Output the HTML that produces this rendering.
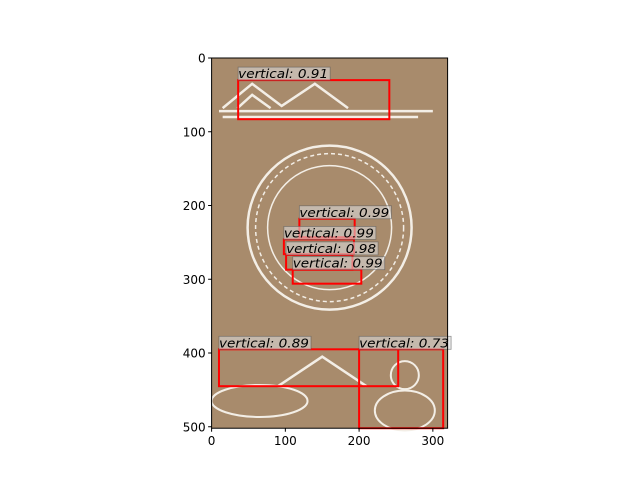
<!DOCTYPE html>
<html><head><meta charset="utf-8"><style>
body{margin:0;background:#fff;}
svg{display:block;font-family:"DejaVu Sans","Liberation Sans",sans-serif;}
</style></head><body>
<svg id="chart" width="640" height="480" viewBox="0 0 640 480">
  <g id="img"></g>
  <g id="deco"></g>
  <g id="boxes"></g>
  <g id="axes"></g>
</svg>
<script>
const labels = ["vertical","vertical","vertical","vertical","vertical","vertical","vertical"];
const scores = [0.91, 0.99, 0.99, 0.98, 0.99, 0.89, 0.73];
const x0s = [36, 119, 98, 101, 110, 10, 200];
const y0s = [30, 218, 246, 267, 287, 395, 395];
const x1s = [241, 194, 193, 191, 203, 253, 314];
const y1s = [83, 243, 266, 287, 306, 445, 502];
const xTicks = [0, 100, 200, 300];
const yTicks = [0, 100, 200, 300, 400, 500];
const imgW = 320, imgH = 502;

const L = 211.6, T = 58, S = 0.7375;
const sx = v => L + v * S;
const sy = v => T + v * S;
const NS = "http://www.w3.org/2000/svg";
function mk(tag, attrs, parent) {
  const e = document.createElementNS(NS, tag);
  for (const k in attrs) e.setAttribute(k, attrs[k]);
  parent.appendChild(e);
  return e;
}
const img = document.getElementById("img");
const bg = mk("rect", {x: sx(0), y: sy(0), width: imgW * S, height: imgH * S, fill: "#a88b6c"}, img);



const deco = document.getElementById("deco");
const W = "#f3eee6";
mk("line", {x1: sx(10), y1: sy(72), x2: sx(300), y2: sy(72), stroke: W, "stroke-width": 2.5}, deco);
mk("line", {x1: sx(15), y1: sy(80), x2: sx(280), y2: sy(80), stroke: W, "stroke-width": 2.5}, deco);
mk("polyline", {points: `${sx(15)},${sy(68)} ${sx(55)},${sy(35)} ${sx(95)},${sy(65)} ${sx(140)},${sy(35)} ${sx(185)},${sy(68)}`, fill: "none", stroke: W, "stroke-width": 2.5}, deco);
mk("polyline", {points: `${sx(35)},${sy(68)} ${sx(55)},${sy(50)} ${sx(80)},${sy(68)}`, fill: "none", stroke: W, "stroke-width": 2.5}, deco);
mk("circle", {cx: sx(160), cy: sy(230), r: 82, fill: "none", stroke: W, "stroke-width": 2.5}, deco);
mk("circle", {cx: sx(160), cy: sy(230), r: 74, fill: "none", stroke: W, "stroke-width": 1.5, "stroke-dasharray": "4 3"}, deco);
mk("circle", {cx: sx(160), cy: sy(230), r: 62, fill: "none", stroke: W, "stroke-width": 1.5}, deco);
mk("ellipse", {cx: sx(65), cy: sy(465), rx: 48, ry: 16, fill: "none", stroke: W, "stroke-width": 2}, deco);
mk("polyline", {points: `${sx(90)},${sy(445)} ${sx(150)},${sy(405)} ${sx(210)},${sy(445)}`, fill: "none", stroke: W, "stroke-width": 2.5}, deco);
mk("circle", {cx: sx(262), cy: sy(430), r: 14, fill: "none", stroke: W, "stroke-width": 2}, deco);
mk("ellipse", {cx: sx(262), cy: sy(478), rx: 30, ry: 20, fill: "none", stroke: W, "stroke-width": 2}, deco);

const boxes = document.getElementById("boxes");
for (let i = 0; i < scores.length; i++) {
  const g = mk("g", {}, boxes);
  
  
  mk("rect", {x: sx(x0s[i]), y: sy(y0s[i]), width: (x1s[i] - x0s[i]) * S, height: (y1s[i] - y0s[i]) * S, fill: "none", stroke: "#ff0000", "stroke-width": 2}, g);
  const txt = labels[i] + ": " + scores[i].toFixed(2);
  const bgR = mk("rect", {x: sx(x0s[i]), y: sy(y0s[i]) - 13, width: 92, height: 13, fill: "#d9d9d9", "fill-opacity": 0.6, stroke: "#555", "stroke-width": 0.8, "stroke-opacity": 0.6}, g);
  const t = mk("text", {x: sx(x0s[i]), y: sy(y0s[i]) - 2, "font-size": 12, "font-style": "italic", fill: "#000", textLength: 90, lengthAdjust: "spacingAndGlyphs"}, g);
  t.textContent = txt;
  
  
}

const axes = document.getElementById("axes");
const frame = mk("rect", {x: sx(0), y: sy(0), width: imgW * S, height: imgH * S, fill: "none", stroke: "#000", "stroke-width": 1}, axes);


xTicks.forEach(v => {
  mk("line", {x1: sx(v), y1: sy(imgH), x2: sx(v), y2: sy(imgH) + 3.5, stroke: "#000"}, axes);
  const t = mk("text", {x: sx(v), y: sy(imgH) + 17, "font-size": 12, "text-anchor": "middle"}, axes);
  t.textContent = v;
  
  
});
yTicks.forEach(v => {
  mk("line", {x1: sx(0), y1: sy(v), x2: sx(0) - 3.5, y2: sy(v), stroke: "#000"}, axes);
  const t = mk("text", {x: sx(0) - 6, y: sy(v) + 4.5, "font-size": 12, "text-anchor": "end"}, axes);
  t.textContent = v;
  
  
});
</script>
</body></html>
